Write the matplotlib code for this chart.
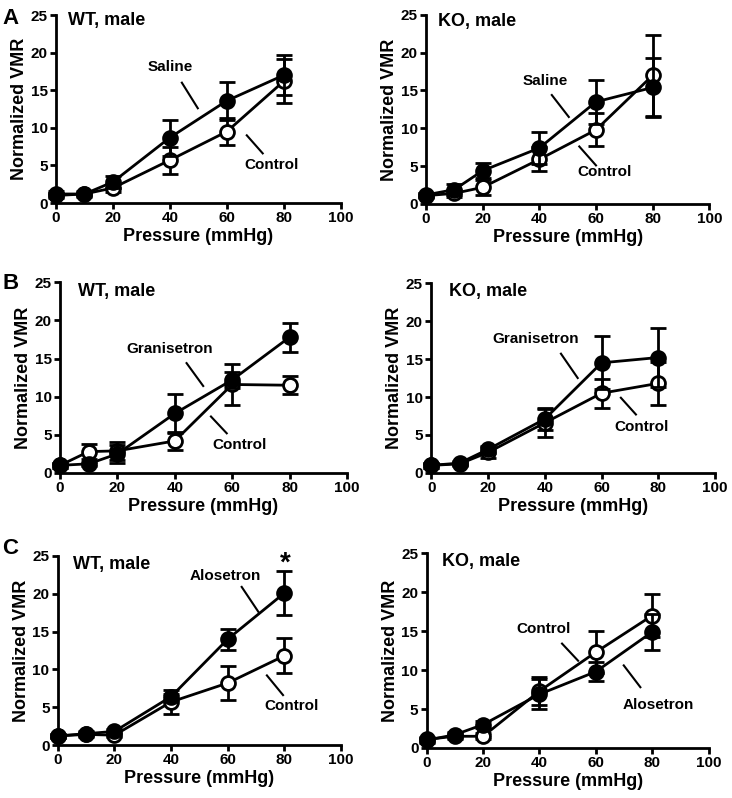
import matplotlib
matplotlib.use('Agg')
import matplotlib.pyplot as plt

plt.rcParams['font.family'] = ['Liberation Sans', 'DejaVu Sans']
plt.rcParams['font.weight'] = 'bold'

pressure = [0, 10, 20, 40, 60, 80]

# A: saline
wt_saline = [1.2, 1.2, 2.8, 8.7, 13.6, 17.0]
wt_saline_err = [0.4, 0.4, 0.8, 2.4, 2.5, 2.7]
wt_saline_ctrl = [1.0, 1.2, 2.0, 5.7, 9.5, 16.2]
wt_saline_ctrl_err = [0.3, 0.3, 0.5, 1.8, 1.8, 2.9]
ko_saline = [1.2, 1.9, 4.4, 7.4, 13.5, 15.4]
ko_saline_err = [0.3, 0.7, 1.0, 2.1, 2.9, 3.9]
ko_saline_ctrl = [1.1, 1.4, 2.2, 5.9, 9.8, 17.0]
ko_saline_ctrl_err = [0.3, 0.5, 1.0, 1.6, 2.2, 5.4]

# B: granisetron
wt_gran = [1.0, 1.2, 2.5, 7.8, 12.2, 17.8]
wt_gran_err = [0.3, 0.3, 1.2, 2.5, 1.0, 1.9]
wt_gran_ctrl = [1.0, 2.8, 2.9, 4.2, 11.6, 11.5]
wt_gran_ctrl_err = [0.3, 1.0, 1.2, 1.2, 2.7, 1.2]
ko_gran = [1.0, 1.3, 3.1, 7.1, 14.5, 15.2]
ko_gran_err = [0.3, 0.3, 0.5, 1.5, 3.5, 3.9]
ko_gran_ctrl = [1.0, 1.2, 2.7, 6.6, 10.5, 11.8]
ko_gran_ctrl_err = [0.3, 0.3, 0.7, 1.8, 1.9, 2.8]

# C: alosetron
wt_alo = [1.2, 1.5, 1.8, 6.4, 14.0, 20.1]
wt_alo_err = [0.3, 0.3, 0.3, 0.4, 1.4, 2.9]
wt_alo_ctrl = [1.2, 1.4, 1.3, 5.7, 8.2, 11.8]
wt_alo_ctrl_err = [0.3, 0.3, 0.3, 1.6, 2.3, 2.3]
ko_alo = [1.0, 1.7, 3.0, 6.9, 9.8, 14.9]
ko_alo_err = [0.3, 0.4, 0.5, 1.9, 1.2, 2.3]
ko_alo_ctrl = [1.1, 1.5, 1.5, 7.3, 12.3, 17.0]
ko_alo_ctrl_err = [0.3, 0.4, 0.4, 1.8, 2.7, 2.8]

fig = plt.figure(figsize=(7.32, 7.98), dpi=100)


def make_axes(rect, title, title_xy):
    ax = fig.add_axes(rect)
    ax.set_xlim(0, 100)
    ax.set_ylim(0, 25)
    ax.set_xticks([0, 20, 40, 60, 80, 100])
    ax.set_yticks([0, 5, 10, 15, 20, 25])
    for s in ['top', 'right']:
        ax.spines[s].set_visible(False)
    for s in ['left', 'bottom']:
        ax.spines[s].set_linewidth(2)
    ax.tick_params(width=2, length=4, labelsize=11, pad=2)
    for lab in ax.get_xticklabels() + ax.get_yticklabels():
        lab.set_fontweight('bold')
    ax.set_xlabel('Pressure (mmHg)', fontsize=13, fontweight='bold', labelpad=2)
    ax.set_ylabel('Normalized VMR', fontsize=13, fontweight='bold', labelpad=2)
    ax.text(title_xy[0], title_xy[1], title, fontsize=13, fontweight='bold', va='center')
    return ax


def draw_pair(ax, drug, drug_err, ctrl, ctrl_err):
    ax.errorbar(pressure, ctrl, yerr=ctrl_err, color='black', lw=2, capsize=6, capthick=2,
                marker='o', ms=10, mfc='white', mec='black', mew=2, clip_on=False, zorder=3)
    ax.errorbar(pressure, drug, yerr=drug_err, color='black', lw=2, capsize=6, capthick=2,
                marker='o', ms=10, mfc='black', mec='black', mew=2, clip_on=False, zorder=4)


def callout(ax, text, txy, l0, l1):
    ax.text(txy[0], txy[1], text, fontsize=11, fontweight='bold', ha='center', va='center')
    ax.plot([l0[0], l1[0]], [l0[1], l1[1]], color='black', lw=1.5)


# A left
ax = make_axes([0.0765, 0.7456, 0.389, 0.2356], 'WT, male', (4.2, 24.3))
draw_pair(ax, wt_saline, wt_saline_err, wt_saline_ctrl, wt_saline_ctrl_err)
callout(ax, 'Saline', (40, 18.1), (44.2, 16.0), (49.8, 12.6))
callout(ax, 'Control', (75.8, 5.1), (67, 9.0), (72.6, 6.6))

# A right
ax = make_axes([0.582, 0.7444, 0.387, 0.237], 'KO, male', (4.1, 24.1))
draw_pair(ax, ko_saline, ko_saline_err, ko_saline_ctrl, ko_saline_ctrl_err)
callout(ax, 'Saline', (42, 16.2), (44.4, 14.4), (50.4, 11.5))
callout(ax, 'Control', (63, 4.2), (54.1, 7.6), (60, 5.1))

# B left
ax = make_axes([0.082, 0.4073, 0.392, 0.239], 'WT, male', (6.3, 23.8))
draw_pair(ax, wt_gran, wt_gran_err, wt_gran_ctrl, wt_gran_ctrl_err)
callout(ax, 'Granisetron', (38.3, 16.3), (44.1, 14.4), (49.9, 11.4))
callout(ax, 'Control', (62.5, 3.7), (52.6, 7.4), (58.1, 5.2))

# B right
ax = make_axes([0.589, 0.4073, 0.388, 0.238], 'KO, male', (6.4, 23.9))
draw_pair(ax, ko_gran, ko_gran_err, ko_gran_ctrl, ko_gran_ctrl_err)
callout(ax, 'Granisetron', (36.9, 17.6), (45.7, 15.7), (51.6, 12.5))
callout(ax, 'Control', (74.2, 6.0), (66.8, 9.9), (72.1, 7.7))

# C left
ax = make_axes([0.079, 0.0664, 0.387, 0.237], 'WT, male', (5.3, 23.8))
draw_pair(ax, wt_alo, wt_alo_err, wt_alo_ctrl, wt_alo_ctrl_err)
callout(ax, 'Alosetron', (59, 22.4), (64.9, 20.9), (70.8, 17.6))
callout(ax, 'Control', (82.4, 5.2), (73.8, 9.2), (79.5, 6.6))
ax.text(80.3, 24.0, '*', fontsize=20, fontweight='bold', ha='center', va='center')

# C right
ax = make_axes([0.583, 0.0627, 0.385, 0.244], 'KO, male', (5.5, 24.0))
draw_pair(ax, ko_alo, ko_alo_err, ko_alo_ctrl, ko_alo_ctrl_err)
callout(ax, 'Control', (41.6, 15.3), (48, 13.4), (53.7, 11.2))
callout(ax, 'Alosetron', (82.3, 5.5), (69.9, 10.6), (75.8, 7.8))

# panel letters
fig.text(0.003, 0.977, 'A', fontsize=16, fontweight='bold', va='center')
fig.text(0.003, 0.645, 'B', fontsize=16, fontweight='bold', va='center')
fig.text(0.003, 0.313, 'C', fontsize=16, fontweight='bold', va='center')

fig.savefig('out.png', dpi=100)
